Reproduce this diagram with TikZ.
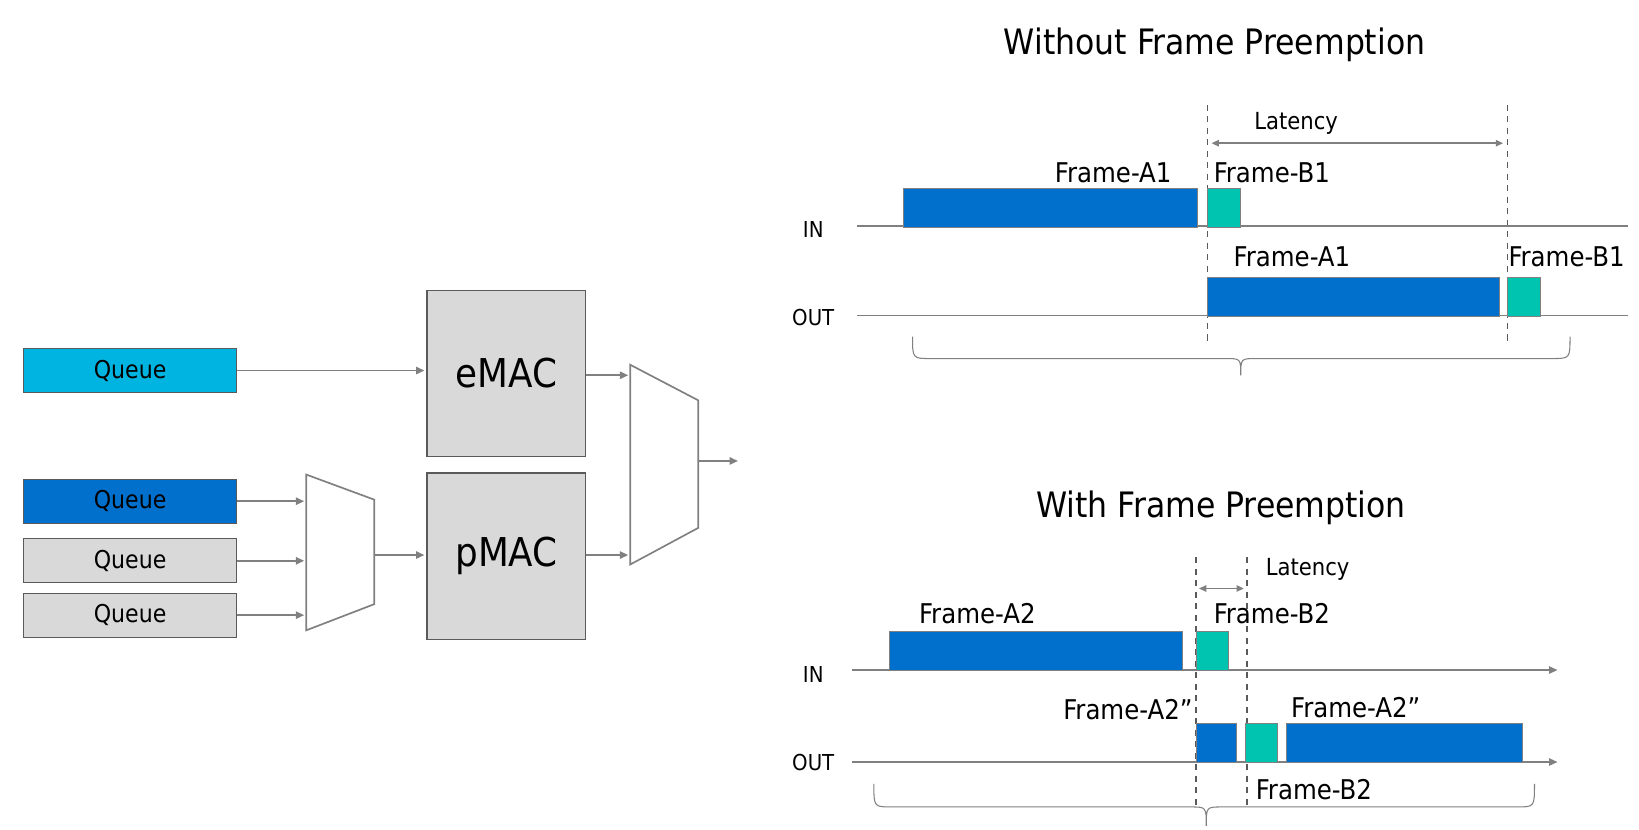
\documentclass[tikz,border=0pt]{standalone}
\usepackage{fontspec}
\setmainfont{DejaVu Sans Condensed}
\usetikzlibrary{arrows.meta}
\definecolor{qcyan}{HTML}{00B4E1}
\definecolor{qblue}{HTML}{0070CC}
\definecolor{fgreen}{HTML}{00C4B0}
\definecolor{boxgray}{HTML}{D9D9D9}
\definecolor{linegray}{HTML}{808080}
\definecolor{edgegray}{HTML}{5A5A5A}
\newcommand{\fs}[1]{\fontsize{#1}{#1}\selectfont}
\begin{document}
\begin{tikzpicture}[x=1pt,y=-1pt,
  queue/.style={draw=edgegray, line width=1pt, minimum width=204, minimum height=42, anchor=north west, inner sep=0pt, font=\fs{23.5}},
  mac/.style={draw=edgegray, line width=1pt, fill=boxgray, minimum width=152, minimum height=159, anchor=north west, inner sep=0pt, font=\fs{38}},
  arr/.style={draw=linegray, line width=1.6pt, -{Triangle[length=8pt,width=7pt]}},
  dbl/.style={draw=linegray, line width=1.6pt, {Triangle[length=7pt,width=6pt]}-{Triangle[length=7pt,width=6pt]}},
  mux/.style={draw=linegray, line width=1.6pt},
  axis/.style={draw=linegray, line width=1.4pt},
  dashline/.style={draw=edgegray, line width=1.4pt, dash pattern=on 6pt off 5pt},
  brc/.style={draw=linegray, line width=1pt},
  frA/.style={fill=qblue, draw=linegray, line width=0.6pt, anchor=north west, inner sep=0pt, minimum height=37},
  frB/.style={fill=fgreen, draw=linegray, line width=0.6pt, anchor=north west, inner sep=0pt, minimum height=37},
  lbl/.style={font=\fs{26}, inner sep=0pt},
  small/.style={font=\fs{21}, inner sep=0pt},
  lat/.style={font=\fs{22.5}, inner sep=0pt},
  title/.style={font=\fs{33.5}, inner sep=0pt}]
\useasboundingbox (0,0) rectangle (1568,794);
\fill[white] (0,0) rectangle (1568,794);

% ---------------- left part ----------------
\node[queue, fill=qcyan] (q1) at (22,333) {Queue};
\node[queue, fill=qblue] (q2) at (22,458) {Queue};
\node[queue, fill=boxgray] (q3) at (22,515) {Queue};
\node[queue, fill=boxgray] (q4) at (22,567) {Queue};

\node[mac] (emac) at (408,277) {eMAC};
\node[mac] (pmac) at (408,452) {pMAC};

\coordinate (m1a) at (293,454);
\coordinate (m1b) at (358,478);
\coordinate (m1c) at (358,578);
\coordinate (m1d) at (293,603);
\draw[mux] (m1a) -- (m1b) -- (m1c) -- (m1d) -- cycle;
\coordinate (m1out) at (358,531);

\coordinate (m2a) at (603,349);
\coordinate (m2b) at (668,383);
\coordinate (m2c) at (668,505);
\coordinate (m2d) at (603,540);
\draw[mux] (m2a) -- (m2b) -- (m2c) -- (m2d) -- cycle;
\coordinate (m2out) at (668,441);
\coordinate (outend) at (706,441);

\draw[arr] (q1.east) -- ([xshift=-2pt]q1.east -| emac.west);
\draw[arr] (q2.east) -- ([xshift=-2pt]q2.east -| m1a);
\draw[arr] (q3.east) -- ([xshift=-2pt]q3.east -| m1a);
\draw[arr] (q4.east) -- ([xshift=-2pt]q4.east -| m1a);
\draw[arr] (m1out) -- ([xshift=-2pt]m1out -| pmac.west);
\draw[arr] ([yshift=-2pt]emac.east) -- ([yshift=-2pt,xshift=-2pt]emac.east -| m2a);
\draw[arr] (m1out -| pmac.east) -- ([xshift=-2pt]m1out -| m2a);
\draw[arr] (m2out) -- (outend);

% ---------------- top timing ----------------
\node[title] (t1) at (1162,43) {Without Frame Preemption};

\coordinate (d1t) at (1155,100); \coordinate (d1b) at (1155,328);
\coordinate (d2t) at (1442,100); \coordinate (d2b) at (1442,328);
\draw[dashline] (d1t) -- (d1b);
\draw[dashline] (d2t) -- (d2b);
\draw[dbl] (1159,137) -- (1438,137);
\node[lat] (lat1) at (1240,118) {Latency};

\node[small] (in1) at (778,220) {IN};
\node[small] (out1) at (778,304) {OUT};
\draw[axis] (820,216) -- (1557,216);
\draw[axis] (820,302) -- (1557,302);

\node[frA, minimum width=281] (a1in) at (864,180) {};
\node[frB, minimum width=31] (b1in) at (1155,180) {};
\node[frA, minimum width=279] (a1out) at (1155,265) {};
\node[frB, minimum width=31] (b1out) at (1442,265) {};
\node[lbl] (la1in) at (1065,165) {Frame-A1};
\node[lbl, anchor=west] (lb1in) at (1161,165) {Frame-B1};
\node[lbl] (la1out) at (1236,246) {Frame-A1};
\node[lbl, anchor=west] (lb1out) at (1443,246) {Frame-B1};

\draw[brc] (873,322) .. controls (873,343) .. (890,343) -- (1172,343)
  .. controls (1187,343) .. (1187,359) .. controls (1187,343) .. (1202,343)
  -- (1485,343) .. controls (1502,343) .. (1502,322);

% ---------------- bottom timing ----------------
\node[title] (t2) at (1168,486) {With Frame Preemption};

\coordinate (e1t) at (1144,533); \coordinate (e1b) at (1144,770);
\coordinate (e2t) at (1193,533); \coordinate (e2b) at (1193,770);
\draw[dashline] (e1t) -- (e1b);
\draw[dashline] (e2t) -- (e2b);
\draw[dbl] (1147,563) -- (1190,563);
\node[lat] (lat2) at (1251,545) {Latency};

\node[small] (in2) at (778,645) {IN};
\node[small] (out2) at (778,729) {OUT};
\draw[axis, -{Triangle[length=8pt,width=7pt]}] (815,641) -- (1490,641);
\draw[axis, -{Triangle[length=8pt,width=7pt]}] (815,729) -- (1490,729);

\node[frA, minimum width=281] (a2in) at (850,604) {};
\node[frB, minimum width=31] (b2in) at (1144,604) {};
\node[frA, minimum width=38] (a2p1) at (1144,692) {};
\node[frB, minimum width=31] (b2out) at (1191,692) {};
\node[frA, minimum width=226] (a2p2) at (1230,692) {};
\node[lbl] (la2in) at (935,587) {Frame-A2};
\node[lbl, anchor=west] (lb2in) at (1161,587) {Frame-B2};
\node[lbl, anchor=east] (la2p1) at (1141,679) {Frame-A2”};
\node[lbl] (la2p2) at (1297,677) {Frame-A2”};
\node[lbl] (lb2out) at (1257,755) {Frame-B2};

\draw[brc] (836,750) .. controls (836,772) .. (853,772) -- (1139,772)
  .. controls (1154,772) .. (1154,790) .. controls (1154,772) .. (1169,772)
  -- (1451,772) .. controls (1468,772) .. (1468,750);
\end{tikzpicture}
\end{document}
